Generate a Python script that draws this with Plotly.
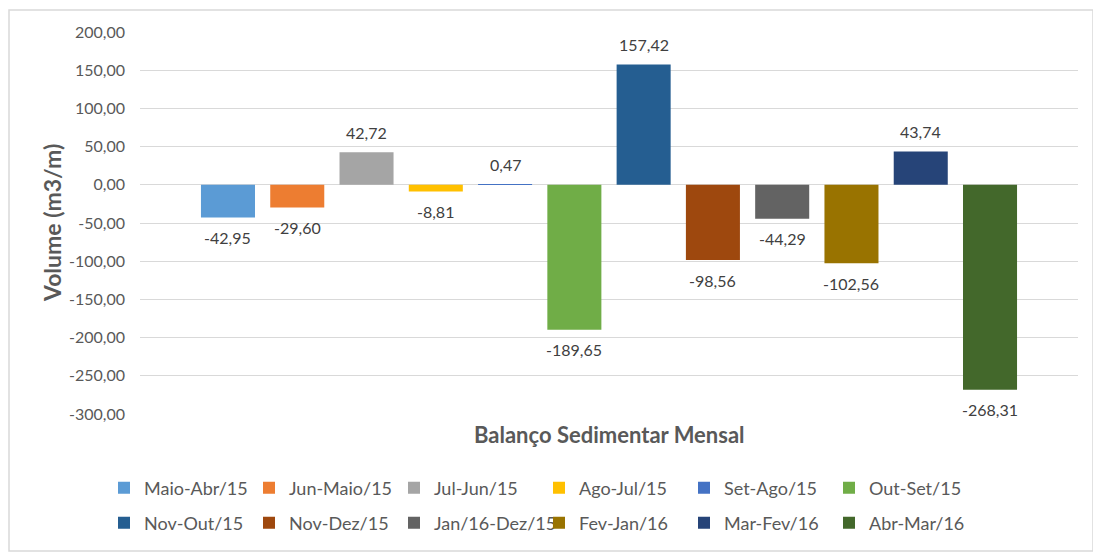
import plotly.graph_objects as go

series_names = ["Maio-Abr/15", "Jun-Maio/15", "Jul-Jun/15", "Ago-Jul/15", "Set-Ago/15", "Out-Set/15",
                "Nov-Out/15", "Nov-Dez/15", "Jan/16-Dez/15", "Fev-Jan/16", "Mar-Fev/16", "Abr-Mar/16"]
values = [-42.95, -29.60, 42.72, -8.81, 0.47, -189.65, 157.42, -98.56, -44.29, -102.56, 43.74, -268.31]
colors = ["#5B9BD5", "#ED7D31", "#A5A5A5", "#FFC000", "#4472C4", "#70AD47",
          "#255E91", "#9E480E", "#636363", "#997300", "#264478", "#43682B"]
tick_vals = [200, 150, 100, 50, 0, -50, -100, -150, -200, -250, -300]
tick_text = ["200,00", "150,00", "100,00", "50,00", "0,00", "-50,00", "-100,00", "-150,00", "-200,00", "-250,00", "-300,00"]
x_title = "Balanço Sedimentar Mensal"
y_title = "Volume (m3/m)"

FONT = "Lato"
# page has an 8px body margin; figure coordinates = page coordinates - 8
OFF = 8
W, H = 1101 - OFF, 556 - OFF
L, R, T, B = 140 - OFF, W - (1078 - OFF), 32 - OFF, H - (414 - OFF)
pw, ph = W - L - R, H - T - B

def px(x):
    return (x - OFF - L) / pw

def py(y):
    return (H - B - (y - OFF)) / ph

fig = go.Figure()
positions = list(range(len(series_names)))
for i, (name, v, c) in enumerate(zip(series_names, values, colors)):
    fig.add_trace(go.Bar(
        x=[positions[i]], y=[v], name=name, width=0.78,
        marker=dict(color=c, line=dict(width=0)),
        legend="legend" if i < 6 else "legend2",
    ))

annotations = []
for i, v in enumerate(values):
    annotations.append(dict(
        x=positions[i], y=v, xref="x", yref="y", text=f"{v:.2f}".replace(".", ","),
        showarrow=False, xanchor="center", yanchor="middle",
        yshift=20 if v >= 0 else -20,
        font=dict(family=FONT, size=16, color="#404040"),
    ))
annotations += [
    dict(text=f"<b>{x_title}</b>", xref="paper", yref="paper",
         x=0.5, y=py(434), showarrow=False, xanchor="center", yanchor="middle",
         font=dict(family=FONT, size=22, color="#595959")),
    dict(text=f"<b>{y_title}</b>", xref="paper", yref="paper",
         x=px(52), y=0.5, showarrow=False, textangle=-90, xanchor="center", yanchor="middle",
         font=dict(family=FONT, size=23, color="#595959")),
]

leg_common = dict(orientation="h", xanchor="left", yanchor="middle",
                  entrywidth=100, entrywidthmode="pixels", itemwidth=30,
                  font=dict(family=FONT, size=18, color="#595959"), traceorder="normal",
                  bgcolor="rgba(0,0,0,0)")

fig.update_layout(
    width=W, height=H, margin=dict(l=L, r=R, t=T, b=B),
    paper_bgcolor="white", plot_bgcolor="white",
    font=dict(family=FONT, color="#595959"),
    showlegend=True,
    legend=dict(x=px(104), y=py(488), **leg_common),
    legend2=dict(x=px(104), y=py(523), **leg_common),
    xaxis=dict(range=[-1.27, 12.27], showticklabels=False, showgrid=False, zeroline=False,
               showline=False, fixedrange=True),
    yaxis=dict(range=[-300, 200], tickvals=tick_vals, ticktext=tick_text,
               showgrid=True, gridcolor="#D9D9D9", gridwidth=1, zeroline=True,
               zerolinecolor="#D9D9D9", zerolinewidth=1, showline=False,
               ticklabelstandoff=14, tickfont=dict(family=FONT, size=16, color="#595959")),
    shapes=[dict(type="rect", xref="paper", yref="paper",
                 x0=px(9), x1=px(1093), y0=py(551), y1=py(10),
                 line=dict(color="#D9D9D9", width=1.5), fillcolor="rgba(0,0,0,0)")],
    annotations=annotations,
)
fig.write_html("out.html")
